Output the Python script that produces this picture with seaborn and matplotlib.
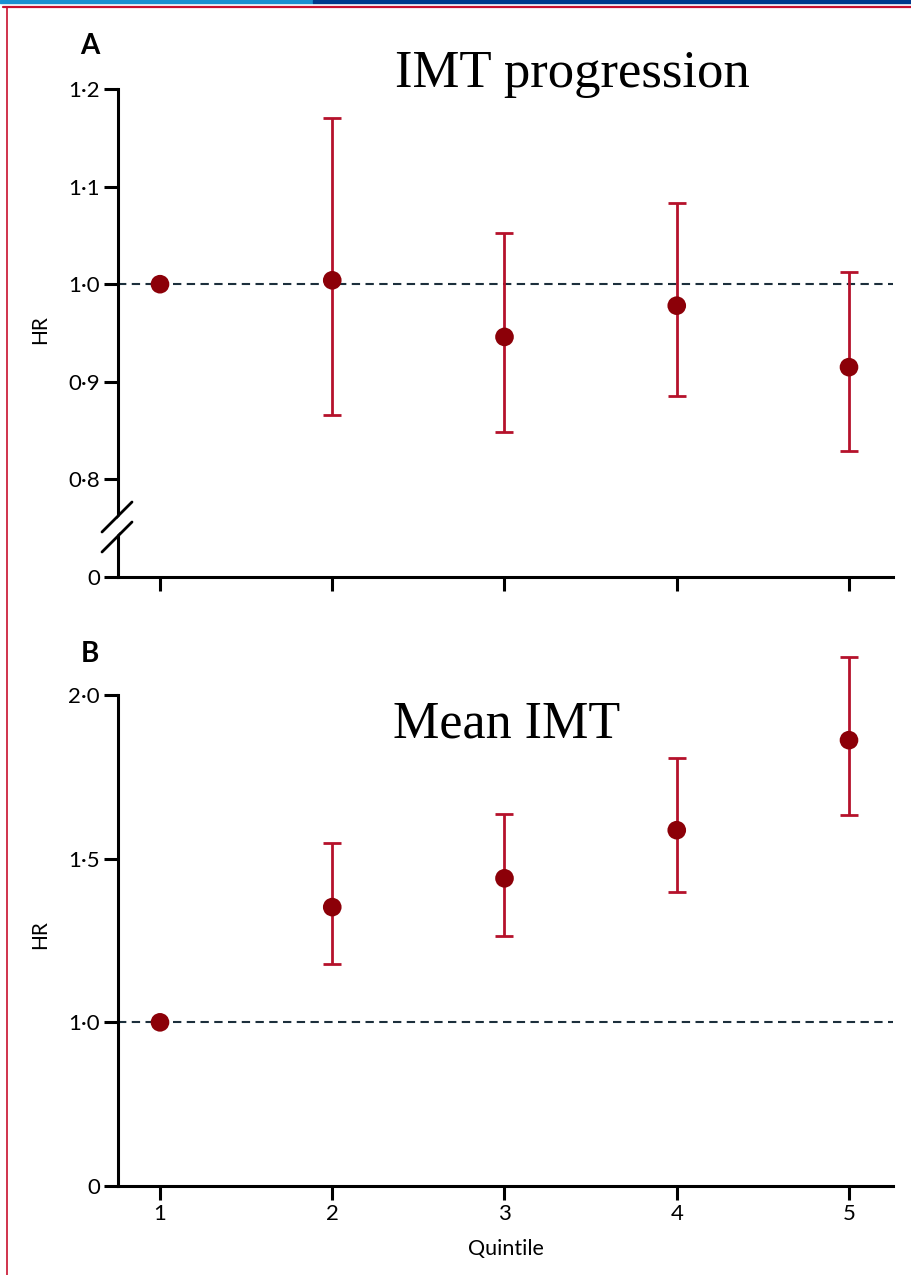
import numpy as np
import pandas as pd
import matplotlib
matplotlib.use("Agg")
import matplotlib.pyplot as plt
from matplotlib.patches import Polygon, Rectangle
from matplotlib.lines import Line2D
import seaborn as sns

# ---- data ----
quintiles = [1, 2, 3, 4, 5]
# Panel A: IMT progression
hr_a = [1.000, 1.004, 0.946, 0.978, 0.915]
lo_a = [np.nan, 0.866, 0.849, 0.885, 0.829]
hi_a = [np.nan, 1.170, 1.052, 1.083, 1.012]
# Panel B: Mean IMT
hr_b = [1.000, 1.352, 1.440, 1.587, 1.862]
lo_b = [np.nan, 1.177, 1.263, 1.398, 1.633]
hi_b = [np.nan, 1.547, 1.636, 1.807, 2.116]

yticks_a = [0.7, 0.8, 0.9, 1.0, 1.1, 1.2]
yticklabels_a = ["0", "0·8", "0·9", "1·0", "1·1", "1·2"]
yticks_b = [0.5, 1.0, 1.5, 2.0]
yticklabels_b = ["0", "1·0", "1·5", "2·0"]

sns.set_style("ticks")
plt.rcParams["font.family"] = ["Lato", "DejaVu Sans"]
plt.rcParams["text.color"] = "black"
plt.rcParams["axes.labelcolor"] = "black"

W, H = 911, 1275
fig = plt.figure(figsize=(W / 100, H / 100), dpi=100)

# decorative page frame
fig.patches.append(Rectangle((0, 1 - 3 / H), 313 / W, 3 / H, transform=fig.transFigure,
                             color="#1a8fd0", zorder=0))
fig.patches.append(Rectangle((313 / W, 1 - 3 / H), 1 - 313 / W, 3 / H, transform=fig.transFigure,
                             color="#003a8c", zorder=0))
fig.lines.append(Line2D([3 / W, 1], [1 - 7 / H, 1 - 7 / H], transform=fig.transFigure,
                        color="#c8102e", lw=1.6))
fig.lines.append(Line2D([7 / W, 7 / W], [0, 1 - 7 / H], transform=fig.transFigure,
                        color="#c8102e", lw=1.2))

left = 118 / W
width = 775 / W
axA = fig.add_axes([left, 1 - 577 / H, width, 488 / H])
axB = fig.add_axes([left, 1 - 1186 / H, width, 491 / H])

xlim = (1 - 42 / 172.25, 5 + 44 / 172.25)
err_color = "#b5122b"
pt_color = "#8c0008"

def draw(ax, hr, lo, hi, ylim, yticks, yticklabels):
    df = pd.DataFrame({"q": quintiles, "hr": hr, "lo": lo, "hi": hi})
    ax.axhline(1.0, color="#1c2f3c", lw=1.5, ls=(0, (4, 2.6)), zorder=1)
    sub = df.dropna()
    ax.errorbar(sub["q"], sub["hr"], yerr=[sub["hr"] - sub["lo"], sub["hi"] - sub["hr"]],
                fmt="none", ecolor=err_color, elinewidth=2.0, capsize=6.5, capthick=2.0,
                zorder=2, clip_on=False)
    sns.scatterplot(data=df, x="q", y="hr", ax=ax, color=pt_color, s=180,
                    edgecolor="none", zorder=3, clip_on=False, legend=False)
    ax.set_xlim(*xlim)
    ax.set_ylim(*ylim)
    ax.set_yticks(yticks)
    ax.set_yticklabels(yticklabels)
    ax.set_xticks(quintiles)
    sns.despine(ax=ax)
    for s in ["left", "bottom"]:
        ax.spines[s].set_linewidth(2.2)
        ax.spines[s].set_color("black")
    ax.tick_params(axis="both", width=2.2, length=10, direction="out",
                   labelsize=16, colors="black", pad=3)
    ax.set_ylabel("HR", fontsize=15)

draw(axA, hr_a, lo_a, hi_a, (0.7, 1.2), yticks_a, yticklabels_a)
draw(axB, hr_b, lo_b, hi_b, (0.5, 2.0), yticks_b, yticklabels_b)

axA.set_xticklabels([])
axA.set_xlabel("")
axA.yaxis.set_label_coords(-68 / 775, (577 - 330) / 488)
axB.set_xlabel("Quintile", fontsize=15.5, labelpad=11)
axB.yaxis.set_label_coords(-68 / 775, (1186 - 935) / 491)

# axis break marks on panel A
tr = axA.transAxes
xa, xb = -16 / 775, 14 / 775
y1a, y1b = (577 - 532) / 488, (577 - 502) / 488
y2a, y2b = (577 - 552) / 488, (577 - 522) / 488
gap = Polygon([[xa, y1a - 0.004], [xb, y1b - 0.004], [xb, y2b + 0.004], [xa, y2a + 0.004]],
              closed=True, transform=tr, facecolor="white", edgecolor="none",
              clip_on=False, zorder=5)
axA.add_patch(gap)
for (ya, yb) in [(y1a, y1b), (y2a, y2b)]:
    axA.add_line(Line2D([xa, xb], [ya, yb], transform=tr, color="black", lw=2.0,
                        clip_on=False, zorder=6))

# panel letters
fig.text(90 / W, 1 - 46 / H, "A", fontsize=20, fontweight="bold", ha="center", va="center")
fig.text(90 / W, 1 - 654 / H, "B", fontsize=20, fontweight="bold", ha="center", va="center")

# titles
fig.text(572 / W, 1 - 87 / H, "IMT progression", fontsize=38, family="Liberation Serif",
         ha="center", va="baseline")
fig.text(507 / W, 1 - 737 / H, "Mean IMT", fontsize=37.5, family="Liberation Serif",
         ha="center", va="baseline")

fig.savefig("out.png", dpi=100)
